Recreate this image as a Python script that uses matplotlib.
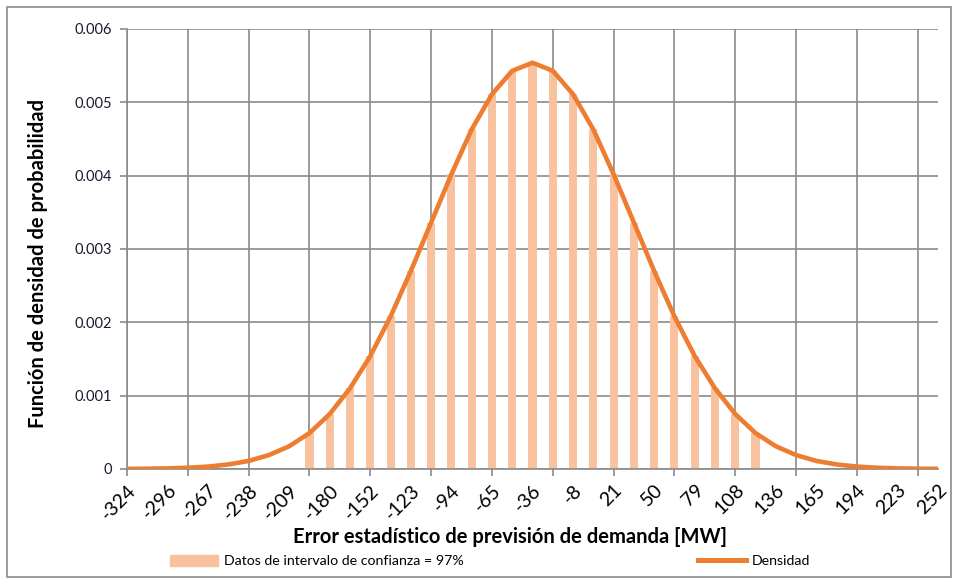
import matplotlib
matplotlib.use("Agg")
import matplotlib.pyplot as plt
from matplotlib.patches import Rectangle, Patch
from matplotlib.lines import Line2D

plt.rcParams['font.family'] = ['Lato', 'DejaVu Sans']

# Category labels (error in MW) - 41 points
categorias = ["-324", "-310", "-296", "-281", "-267", "-252", "-238", "-224", "-209", "-195",
              "-180", "-166", "-152", "-137", "-123", "-108", "-94", "-80", "-65", "-51",
              "-36", "-22", "-8", "7", "21", "36", "50", "64", "79", "93",
              "108", "122", "136", "151", "165", "180", "194", "208", "223", "237", "252"]

# Probability density (line)
densidad = [0.0000019, 0.0000040, 0.0000085, 0.000017, 0.000033, 0.000062, 0.00011, 0.00019,
            0.00031, 0.00049, 0.00075, 0.00110, 0.00154, 0.00208, 0.00270, 0.00336, 0.00402,
            0.00463, 0.00511, 0.00543, 0.00554, 0.00543, 0.00511, 0.00463, 0.00402, 0.00336,
            0.00270, 0.00208, 0.00154, 0.00110, 0.00075, 0.00049, 0.00031, 0.00019, 0.00011,
            0.000062, 0.000033, 0.000017, 0.0000085, 0.0000040, 0.0000019]

# Confidence interval bars (97%), zero outside the interval
confianza = [0, 0, 0, 0, 0, 0, 0, 0, 0,
             0.00049, 0.00075, 0.00110, 0.00154, 0.00208, 0.00270, 0.00336, 0.00402,
             0.00463, 0.00511, 0.00543, 0.00554, 0.00543, 0.00511, 0.00463, 0.00402, 0.00336,
             0.00270, 0.00208, 0.00154, 0.00110, 0.00075, 0.00049,
             0, 0, 0, 0, 0, 0, 0, 0, 0]

y_ticks = [0, 0.001, 0.002, 0.003, 0.004, 0.005, 0.006]
y_labels = ["0", "0.001", "0.002", "0.003", "0.004", "0.005", "0.006"]

bar_color = "#F8C29F"
line_color = "#ED7D31"
grid_color = "#8A8A8A"

W, H = 959, 581
fig = plt.figure(figsize=(W / 100, H / 100), dpi=100)
ax = fig.add_axes([127 / W, 1 - 469 / H, (938 - 127) / W, (469 - 29) / H])

idx = list(range(len(categorias)))
ax.bar(idx, confianza, width=0.4, color=bar_color, zorder=2)
ax.plot(idx, densidad, color=line_color, lw=3.3, zorder=3, solid_capstyle='round')

ax.set_xlim(0, len(categorias) - 1)
ax.set_ylim(0, 0.006)
ax.xaxis.remove_overlapping_locs = False

# labels every 2 categories (major, no tick mark)
major = [i for i in idx if i % 2 == 0]
ax.set_xticks(major)
ax.set_xticklabels([categorias[i] for i in major], rotation=45,
                   ha='right', va='top', rotation_mode='anchor', fontsize=14)
ax.tick_params(axis='x', which='major', length=0, pad=9)
# gridlines / tick marks every 3 categories (minor)
minor = [i for i in idx if i % 3 == 0]
ax.set_xticks(minor, minor=True)
ax.tick_params(axis='x', which='minor', length=5, width=1.2, color=grid_color)

ax.set_yticks(y_ticks)
ax.set_yticklabels(y_labels, fontsize=10.5, color='#1a1a2e')
ax.tick_params(axis='y', length=5, width=1.2, color=grid_color, pad=6)

ax.grid(True, axis='x', which='minor', color=grid_color, lw=1.2, zorder=0)
ax.grid(True, axis='y', which='major', color=grid_color, lw=1.2, zorder=0)
ax.set_axisbelow(True)
for s in ['top', 'right']:
    ax.spines[s].set_visible(False)
for s in ['left', 'bottom']:
    ax.spines[s].set_color(grid_color)
    ax.spines[s].set_linewidth(1.2)

fig.text(510 / W, 1 - 537 / H, "Error estadístico de previsión de demanda [MW]",
         ha='center', va='center', fontsize=14.5, fontweight='bold')
fig.text(38 / W, 1 - 263 / H, "Función de densidad de probabilidad",
         ha='center', va='center', rotation=90, fontsize=14.5, fontweight='bold')

handles = [Patch(color=bar_color, label="Datos de intervalo de confianza = 97%"),
           Line2D([0], [0], color=line_color, lw=3.6, label="Densidad")]
fig.legend(handles=handles, loc='center', bbox_to_anchor=(490 / W, 1 - 561 / H), ncol=2,
           frameon=False, fontsize=10.2, handlelength=3.4, handletextpad=0.4,
           columnspacing=16.5, handleheight=0.9)

fig.add_artist(Rectangle((7 / W, 1 - 577 / H), (951 - 7) / W, (577 - 7) / H,
                         transform=fig.transFigure, fill=False, edgecolor=grid_color, lw=1.2))

fig.savefig("out.png", dpi=100)
